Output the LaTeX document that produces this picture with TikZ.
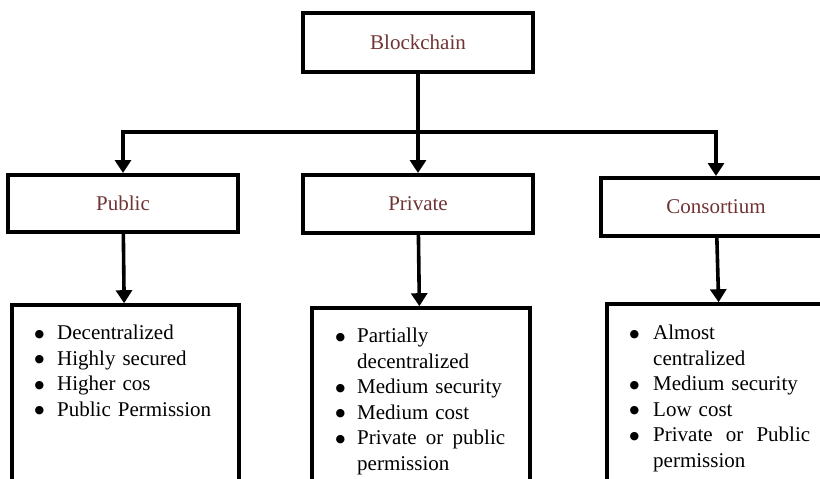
\documentclass[tikz,border=0pt]{standalone}
\usepackage{fontspec}
\setmainfont{Liberation Serif}
\newfontfamily\symfont{DejaVu Sans}
\usetikzlibrary{arrows.meta}
\definecolor{labelred}{RGB}{112,52,52}
% a bulleted line: bullet column of width #1, then the text
\newcommand{\bul}[2]{\noindent\makebox[#1][l]{\raisebox{2.5pt}{\symfont\fontsize{11}{11}\selectfont ●}}#2\par}
% a wrapped continuation line, aligned with the item text
\newcommand{\cont}[2]{\noindent\hspace*{#1}#2\par}
\tikzset{
  headbox/.style={draw, line width=4pt, minimum width=230pt, inner sep=0pt,
    text=labelred, font=\fontsize{21}{25}\selectfont},
  listbox/.style={draw, line width=3.6pt, inner sep=0pt},
  listtext/.style={anchor=north west, inner sep=0pt, align=left,
    font=\fontsize{21}{25.5}\selectfont},
  link/.style={line width=3.6pt, line join=miter},
  arr/.style={link, -{Triangle[width=16pt,length=13pt]}},
}
\begin{document}
\begin{tikzpicture}[x=1pt,y=-1pt]
  \useasboundingbox (0,0) rectangle (820,479);
  \clip (0,0) rectangle (820,479);
  \fill[white] (0,0) rectangle (820,479);

  % category boxes
  \node[headbox, minimum height=59pt] (bc)   at (418,42.5) {Blockchain};
  \node[headbox, minimum height=57pt] (pub)  at (123,203.5) {Public};
  \node[headbox, minimum height=58pt] (priv) at (418,204) {Private};
  \node[headbox, minimum height=58pt] (cons) at (716,207) {Consortium};

  % property boxes (open towards the bottom)
  \node[listbox, minimum width=227pt, minimum height=240pt] (publist)  at (125.5,425) {};
  \node[listbox, minimum width=218pt, minimum height=240pt] (privlist) at (421,428) {};
  \node[listbox, minimum width=230pt, minimum height=240pt] (conslist) at (722,424) {};

  % tree connectors
  \coordinate (split) at (418,132);
  \draw[link] (bc.south) -- (split);
  \draw[arr] (split) -- (priv.north);
  \draw[arr] (split) -| (pub.north);
  \draw[arr] (split) -| (cons.north);
  \draw[arr] (pub) -- (publist);
  \draw[arr] (priv) -- (privlist);
  \draw[arr] (cons) -- (conslist);

  % property lists
  \node[listtext, text width=200pt] (publ) at (34.5,325) {%
    \bul{22.5pt}{Decentralized}
    \bul{22.5pt}{Highly secured}
    \bul{22.5pt}{Higher cos}
    \bul{22.5pt}{Public Permission}};
  \node[listtext, text width=175pt] (privl) at (335.5,328) {%
    \bul{21.5pt}{Partially}
    \cont{21.5pt}{decentralized}
    \bul{21.5pt}{Medium security}
    \bul{21.5pt}{Medium cost}
    \bul{21.5pt}{\makebox[148pt][l]{Private\hfill or\hfill public}}
    \cont{21.5pt}{permission}};
  \node[listtext, text width=185pt] (consl) at (629.5,325) {%
    \bul{23.5pt}{Almost}
    \cont{23.5pt}{centralized}
    \bul{23.5pt}{Medium security}
    \bul{23.5pt}{Low cost}
    \bul{23.5pt}{\makebox[157pt][l]{Private\hfill or\hfill Public}}
    \cont{23.5pt}{permission}};
\end{tikzpicture}
\end{document}
